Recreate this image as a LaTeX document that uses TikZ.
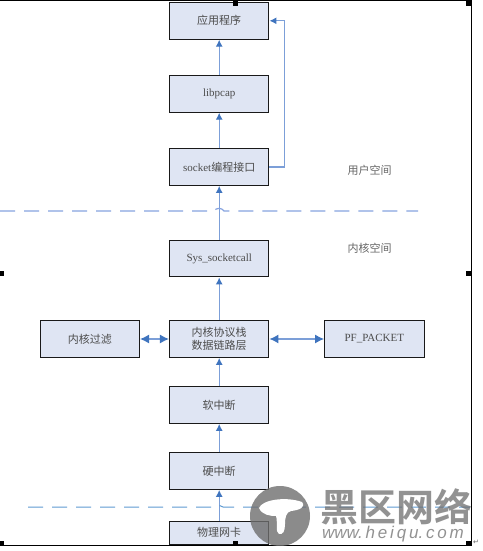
\documentclass[tikz,border=0pt]{standalone}
\usepackage{fontspec}
\setmainfont{Liberation Serif}
\newfontfamily\cjk{Noto Sans CJK SC}
\newfontfamily\wmark{Noto Sans CJK SC}[BoldFont={Noto Sans CJK SC Bold}]
\newfontfamily\wlat{Liberation Sans}
\newfontfamily\djv{DejaVu Sans}
\usetikzlibrary{arrows.meta}
\definecolor{boxfill}{HTML}{DFE5F3}
\definecolor{arrowblue}{HTML}{7C9FD8}
\definecolor{headblue}{HTML}{3F74BE}
\definecolor{dashblue}{HTML}{86A3E0}
\definecolor{lowdash}{HTML}{5F9BD2}
\definecolor{wmgray}{HTML}{6E6E6E}
\tikzset{
  layerbox/.style={draw=black!90,line width=1pt,fill=boxfill,minimum width=99.5pt,inner sep=0pt,align=center,font=\fontsize{11}{13.5}\selectfont,text=black!70},
  tallbox/.style={layerbox,minimum height=36.8pt},
  flow/.style={draw=arrowblue,line width=1.2pt,-{Latex[length=7pt,width=7pt,color=headblue]}},
  twoway/.style={draw=arrowblue,line width=1.2pt,{Latex[length=9pt,width=9pt,color=headblue]}-{Latex[length=9pt,width=9pt,color=headblue]}},
  spacelabel/.style={font=\cjk\fontsize{11}{12}\selectfont,text=black!60,inner sep=0pt},
  handle/.style={fill=black,draw=none,minimum size=5pt,inner sep=0pt},
  sepline/.style={draw=dashblue,line width=1.2pt,dash pattern=on 15pt off 9pt}
}
\begin{document}
\begin{tikzpicture}[x=1pt,y=-1pt]
\useasboundingbox (0,0) rectangle (482,551);
\fill[white] (0,0) rectangle (482,551);
% frame
\coordinate (fa) at (0,1);
\coordinate (fb) at (471,1);
\coordinate (fc) at (471,545.5);
\coordinate (fd) at (0,545.5);
\draw[black,line width=1pt] (fa) -- (fb) -- (fc) -- (fd);
% boxes
\node[tallbox] (app) at (219.2,20.8) {\cjk 应用程序};
\node[tallbox] (pcap) at (219.2,93.8) {libpcap};
\node[tallbox] (sock) at (219.2,167) {socket{\cjk 编程接口}};
\node[tallbox] (sys) at (219.2,258.5) {Sys\_socketcall};
\node[tallbox] (stack) at (219.2,339) {\cjk 内核协议栈\\\cjk 数据链路层};
\node[tallbox] (filter) at (89.8,339) {\cjk 内核过滤};
\node[tallbox] (pf) at (374.3,339) {PF\_PACKET};
\node[tallbox] (soft) at (219.2,405) {\cjk 软中断};
\node[tallbox] (hard) at (219.2,471) {\cjk 硬中断};
\node[layerbox,minimum height=23pt] (nic) at (219.2,532.5) {\cjk 物理网卡};
% connectors
\draw[flow] (pcap) -- (app);
\draw[flow] (sock) -- (pcap);
\draw[flow] (sys) -- (sock);
\draw[flow] (stack) -- (sys);
\draw[flow] (soft) -- (stack);
\draw[flow] (hard) -- (soft);
\draw[flow] (nic) -- (hard);
\draw[flow] (sock.east) -- ++(15,0) |- (app.east);
\draw[twoway] (filter) -- (stack);
\draw[twoway] (stack) -- (pf);
% separators
\coordinate (sa) at (0,211);
\coordinate (sb) at (418,211);
\draw[sepline] (sa) -- (214,211) .. controls (216,207.5) and (222,207.5) .. (224,211) -- (sb);
\coordinate (ta) at (28,507);
\coordinate (tb) at (470,507);
\draw[sepline,draw=lowdash,line width=1pt] (ta) -- (217,507) .. controls (219,503.5) and (221,507) .. (223,507) -- (tb);
% labels
\node[spacelabel] (user) at (369.5,170) {用户空间};
\node[spacelabel] (kern) at (369.5,248.5) {内核空间};
% handles
\node[handle,minimum size=5pt] (h1) at (235,4) {};
\node[handle] (h2) at (468.5,3.5) {};
\node[handle] (h3) at (1.5,273) {};
\node[handle] (h4) at (468.5,273) {};
\node[handle] (h5) at (1.5,543) {};
\node[handle] (h6) at (235,543) {};
\node[handle] (h7) at (468.5,543) {};
\node[font=\djv\fontsize{7}{8}\selectfont,text=black!60,inner sep=0pt] (ret) at (476,542.5) {↵};
% watermark
\begin{scope}
\clip (0,0) rectangle (482,546.5);
\fill[wmgray,opacity=0.8] (280,516) circle (30);
\end{scope}
\fill[white] (259,508) .. controls (262,500) and (285,496) .. (302,502)
  .. controls (306,507) and (300,510) .. (291,511)
  .. controls (286,512) and (285,518) .. (285,524)
  .. controls (285,531) and (283,535) .. (279,534)
  .. controls (275,532) and (278,522) .. (276,516)
  .. controls (270,516) and (262,515) .. (259,508) -- cycle;
\node[font=\wmark\bfseries\fontsize{38}{40}\selectfont,text=wmgray,opacity=0.75,inner sep=0pt] (wm1) at (396,507) {黑区网络};
\node[font=\wlat\itshape\fontsize{17}{18}\selectfont,text=wmgray,opacity=0.75,inner sep=0pt] (wm2) at (393,534) {www.\,h\,e\,i\,q\,u.\,c\,o\,m};
\end{tikzpicture}
\end{document}
